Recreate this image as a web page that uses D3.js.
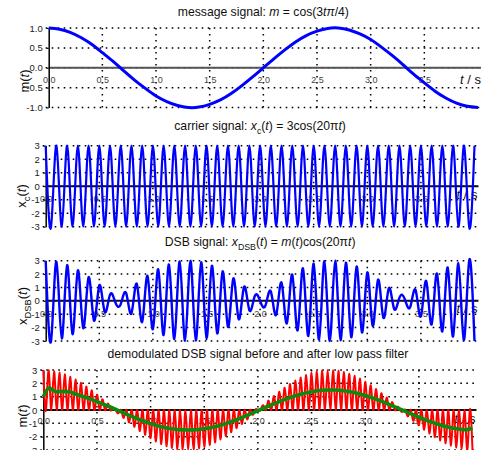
<!DOCTYPE html>
<html><head><meta charset="utf-8">
<script src="https://cdn.jsdelivr.net/npm/d3@7"></script>
<style>
body{margin:0;background:#fff}
svg{display:block}
text{font-family:"Liberation Sans",Arial,Helvetica,sans-serif}
</style>
</head><body>
<svg id="chart" width="481" height="450"></svg>
<script>
// ---------------- data ----------------
const xTickValues = [0, 0.5, 1, 1.5, 2, 2.5, 3, 3.5];
const xTickLabels = ["0.0", "0.5", "1.0", "1.5", "2.0", "2.5", "3.0", "3.5"];
const mTickValues = [-1, -0.5, 0, 0.5, 1];
const mTickLabels = ["-1.0", "-0.5", "0.0", "0.5", "1.0"];
const ampTickValues = [-3, -2, -1, 0, 1, 2, 3];
const ampTickLabels = ["-3", "-2", "-1", "0", "1", "2", "3"];

// message signal m(t), sampled every 0.1 s from t = 0 to 4
const messageStep = 0.1;
const messageValues = [1.00, 0.97, 0.89, 0.76, 0.59, 0.38, 0.16, -0.08, -0.31, -0.52,
  -0.71, -0.85, -0.95, -1.00, -0.99, -0.92, -0.81, -0.65, -0.45, -0.23,
  0.00, 0.23, 0.45, 0.65, 0.81, 0.92, 0.99, 1.00, 0.95, 0.85,
  0.71, 0.52, 0.31, 0.08, -0.16, -0.38, -0.59, -0.76, -0.89, -0.97, -1.00];

// carrier extremes, one every 0.05 s
const peakStep = 0.05;
const carrierPeaks = [3,-3,3,-3,3,-3,3,-3,3,-3, 3,-3,3,-3,3,-3,3,-3,3,-3,
  3,-3,3,-3,3,-3,3,-3,3,-3, 3,-3,3,-3,3,-3,3,-3,3,-3,
  3,-3,3,-3,3,-3,3,-3,3,-3, 3,-3,3,-3,3,-3,3,-3,3,-3,
  3,-3,3,-3,3,-3,3,-3,3,-3, 3,-3,3,-3,3,-3,3,-3,3,-3, 3];

// DSB signal extremes, one every 0.05 s
const dsbPeaks = [3.00,-2.98,2.92,-2.81,2.67,-2.49,2.28,-2.04,1.76,-1.47,
  1.15,-0.81,0.47,-0.12,-0.24,0.59,-0.93,1.26,-1.57,1.86,
  -2.12,2.36,-2.56,2.72,-2.85,2.94,-2.99,3.00,-2.96,2.89,
  -2.77,2.62,-2.43,2.20,-1.95,1.67,-1.36,1.04,-0.70,0.35,
  0.00,-0.35,0.70,-1.04,1.36,-1.67,1.95,-2.20,2.43,-2.62,
  2.77,-2.89,2.96,-3.00,2.99,-2.94,2.85,-2.72,2.56,-2.36,
  2.12,-1.86,1.57,-1.26,0.93,-0.59,0.24,0.12,-0.47,0.81,
  -1.15,1.47,-1.76,2.04,-2.28,2.49,-2.67,2.81,-2.92,2.98,-3.00];

// demodulated (before filter): peaks every 0.05 s, troughs half-way between
const demodPeaks = [3.00,2.98,2.92,2.81,2.67,2.49,2.28,2.04,1.76,1.47,
  1.15,0.81,0.47,0.12,-0.24,-0.59,-0.93,-1.26,-1.57,-1.86,
  -2.12,-2.36,-2.56,-2.72,-2.85,-2.94,-2.99,-3.00,-2.96,-2.89,
  -2.77,-2.62,-2.43,-2.20,-1.95,-1.67,-1.36,-1.04,-0.70,-0.35,
  0.00,0.35,0.70,1.04,1.36,1.67,1.95,2.20,2.43,2.62,
  2.77,2.89,2.96,3.00,2.99,2.94,2.85,2.72,2.56,2.36,
  2.12,1.86,1.57,1.26,0.93,0.59,0.24,-0.12,-0.47,-0.81,
  -1.15,-1.47,-1.76,-2.04,-2.28,-2.49,-2.67,-2.81,-2.92,-2.98,-3.00];
const demodTroughs = [0,0,0,0,0,0,0,0,0,0, 0,0,0,0,0,0,0,0,0,0,
  0,0,0,0,0,0,0,0,0,0, 0,0,0,0,0,0,0,0,0,0,
  0,0,0,0,0,0,0,0,0,0, 0,0,0,0,0,0,0,0,0,0,
  0,0,0,0,0,0,0,0,0,0, 0,0,0,0,0,0,0,0,0,0];

// low-pass filtered output
const filteredTimes = [0, 0.05, 0.1, 0.15, 0.2, 0.25, 0.3,
  0.4, 0.5, 0.6, 0.7, 0.8, 0.9, 1.0, 1.1, 1.2, 1.3, 1.4, 1.5, 1.6, 1.7, 1.8, 1.9,
  2.0, 2.1, 2.2, 2.3, 2.4, 2.5, 2.6, 2.7, 2.8, 2.9, 3.0, 3.1, 3.2, 3.3, 3.4, 3.5,
  3.6, 3.7, 3.8, 3.9, 3.95, 4.0];
const filteredValues = [1.00, 1.64, 1.42, 1.38, 1.40, 1.36, 1.20,
  0.93, 0.63, 0.30, -0.05, -0.40, -0.73, -1.02, -1.25, -1.41, -1.49, -1.49, -1.41, -1.25, -1.02, -0.73, -0.40,
  -0.05, 0.30, 0.63, 0.93, 1.18, 1.37, 1.48, 1.50, 1.44, 1.30, 1.09, 0.82, 0.50, 0.16, -0.19, -0.53,
  -0.85, -1.12, -1.33, -1.46, -1.48, -1.35];

// ---------------- build series ----------------
const messageSeries = messageValues.map((v, i) => [i * messageStep, v]);
const carrierSeries = carrierPeaks.map((v, i) => [i * peakStep, v]);
const dsbSeries = dsbPeaks.map((v, i) => [i * peakStep, v]);
const demodSeries = [];
demodPeaks.forEach((v, i) => {
  demodSeries.push([i * peakStep, v]);
  if (i < demodTroughs.length) demodSeries.push([i * peakStep + peakStep / 2, demodTroughs[i]]);
});
const filteredSeries = filteredValues.map((v, i) => [filteredTimes[i], v]);

// ---------------- layout ----------------
const svg = d3.select("#chart");
const panels = [
  { x0: 48.7, x1: 478, yTop: 28, yBot: 107.5, dom: [-1, 1], ticks: mTickValues, labels: mTickLabels,
    titleY: 16, title: [["message signal: "], ["m", "i"], [" = cos(3"], ["tπ", "i"], ["/4)"]],
    ylab: [["m"], ["(", ""], ["t", "i"], [")"]], ylx: 29, yly: 81, tsDy: 16, xlDy: 12.5, zeroColor: "#555",
    series: [{ data: messageSeries, color: "#0000ff", w: 3 }] },
  { x0: 45.7, x1: 474.5, yTop: 145.7, yBot: 226.7, dom: [-3, 3], ticks: ampTickValues, labels: ampTickLabels,
    titleY: 130, title: [["carrier signal: "], ["x", "i"], ["c", "sub"], ["("], ["t", "i"], [") = 3cos(20π"], ["t", "i"], [")"]],
    ylab: [["x"], ["c", "sub"], ["("], ["t", "i"], [")"]], ylx: 26, yly: 196, tsDy: 13, xlDy: 13, zeroColor: "#111",
    series: [{ data: carrierSeries, color: "#0000ff", w: 2.2 }] },
  { x0: 45.7, x1: 474.5, yTop: 260.7, yBot: 341, dom: [-3, 3], ticks: ampTickValues, labels: ampTickLabels,
    titleY: 246, title: [["DSB signal: "], ["x", "i"], ["DSB", "sub"], ["("], ["t", "i"], [") = "], ["m", "i"], ["("], ["t", "i"], [")cos(20π"], ["t", "i"], [")"]],
    ylab: [["x"], ["DSB", "sub"], ["("], ["t", "i"], [")"]], ylx: 27, yly: 306, tsDy: 12.5, xlDy: 13, zeroColor: "#111",
    series: [{ data: dsbSeries, color: "#0000ff", w: 2.4 }] },
  { x0: 43.3, x1: 472.5, yTop: 370, yBot: 450, dom: [-3, 3], ticks: ampTickValues, labels: ampTickLabels,
    titleY: 358, title: [["demodulated DSB signal before and after low pass filter"]],
    ylab: [["m"], ["("], ["t", "i"], [")"]], ylx: 27, yly: 416, tsDy: 13, xlDy: 11, zeroColor: "#111",
    series: [{ data: demodSeries, color: "#ff0000", w: 2 }, { data: filteredSeries, color: "#0b8a0b", w: 3.6 }] }
];

function richText(sel, parts, size) {
  let shifted = false;
  parts.forEach(p => {
    const t = sel.append("tspan").text(p[0]);
    if (p[1] === "i") t.attr("font-style", "italic");
    if (p[1] === "sub") {
      t.attr("font-size", size * 0.72).attr("dy", size * 0.3);
      shifted = true;
    } else if (shifted) {
      t.attr("dy", -size * 0.3);
      shifted = false;
    }
  });
}

panels.forEach(p => {
  const x = d3.scaleLinear().domain([0, 4]).range([p.x0, p.x1]);
  const y = d3.scaleLinear().domain(p.dom).range([p.yBot, p.yTop]);
  const g = svg.append("g");
  const right = p.x1 + 4;

  // horizontal dotted grid
  g.append("g").selectAll("line").data(p.ticks).join("line")
    .attr("x1", p.x0 - 3).attr("x2", right)
    .attr("y1", d => y(d)).attr("y2", d => y(d))
    .attr("stroke", "#000").attr("stroke-width", 1.5).attr("stroke-dasharray", "1.6,4.4");
  // vertical dotted grid
  g.append("g").selectAll("line").data(xTickValues.slice(1)).join("line")
    .attr("x1", d => x(d)).attr("x2", d => x(d))
    .attr("y1", p.yTop).attr("y2", p.yBot)
    .attr("stroke", "#000").attr("stroke-width", 1.5).attr("stroke-dasharray", "1.6,4.4");

  // t / s label (drawn beneath the curves, as in the original)
  const ts = g.append("text").attr("x", p.x1 + 3).attr("y", y(0) + p.tsDy)
    .attr("text-anchor", "end").attr("font-size", 13).attr("fill", "#111");
  richText(ts, [["t", "i"], [" / s"]], 13);

  // x axis on the zero line
  const xAxis = g.append("g").attr("transform", `translate(0,${y(0)})`)
    .call(d3.axisBottom(x).tickValues(xTickValues).tickFormat((d, i) => xTickLabels[i])
      .tickSizeInner(0).tickSizeOuter(0));
  xAxis.select(".domain").attr("stroke", p.zeroColor).attr("stroke-width", 2)
    .attr("d", `M${p.x0},0H${right}`);
  xAxis.selectAll(".tick text").attr("y", p.xlDy).attr("dy", "0.35em")
    .attr("font-size", 9).attr("fill", "#444").attr("font-family", null);

  // y axis
  const yAxis = g.append("g").attr("transform", `translate(${p.x0},0)`)
    .call(d3.axisLeft(y).tickValues(p.ticks).tickFormat((d, i) => p.labels[i])
      .tickSizeInner(2).tickSizeOuter(0).tickPadding(4));
  yAxis.select(".domain").attr("stroke", "#000").attr("stroke-width", 1.5);
  yAxis.selectAll(".tick line").attr("stroke", "#000");
  yAxis.selectAll(".tick text").attr("font-size", 9.5).attr("fill", "#222").attr("font-family", null);

  // curves
  p.series.forEach(s => {
    g.append("path").datum(s.data)
      .attr("fill", "none").attr("stroke", s.color).attr("stroke-width", s.w)
      .attr("stroke-linejoin", "round")
      .attr("d", d3.line().x(d => x(d[0])).y(d => y(d[1])).curve(d3.curveNatural));
  });

  // title
  const title = g.append("text").attr("x", (p.x0 + p.x1) / 2).attr("y", p.titleY)
    .attr("text-anchor", "middle").attr("font-size", 12.2).attr("fill", "#111");
  richText(title, p.title, 12.2);

  // y label
  const yl = g.append("text").attr("transform", `translate(${p.ylx},${p.yly}) rotate(-90)`)
    .attr("text-anchor", "middle").attr("font-size", 13).attr("fill", "#111");
  richText(yl, p.ylab, 13);
});
</script>
</body></html>
